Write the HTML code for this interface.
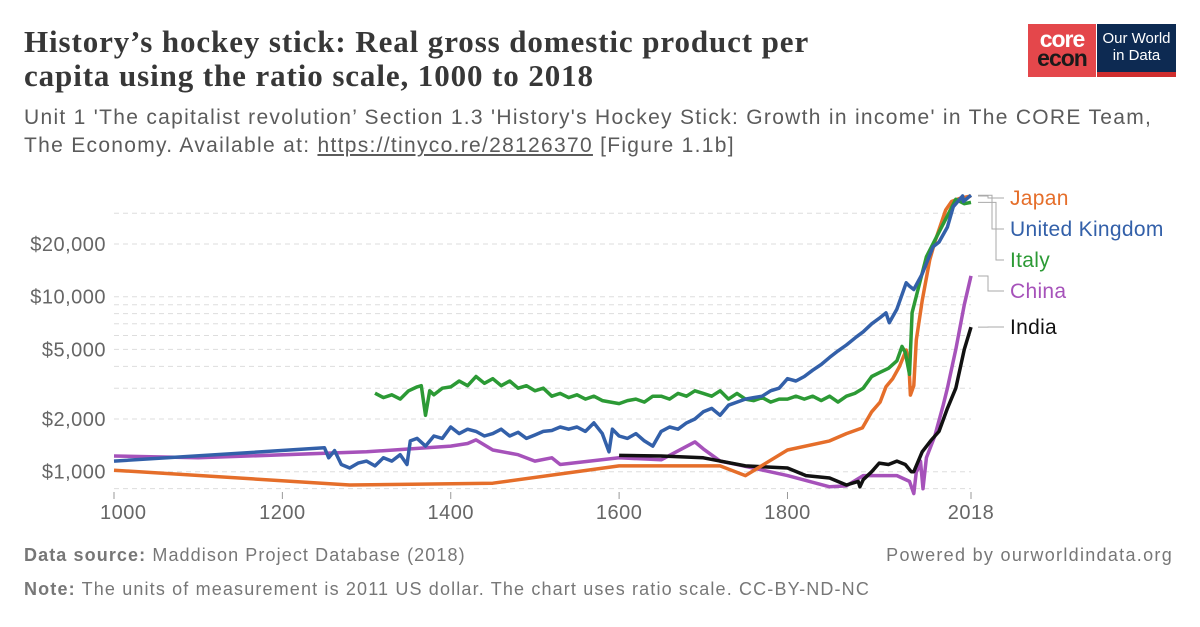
<!DOCTYPE html>
<html><head><meta charset="utf-8">
<style>
body{margin:0;background:#fff;}
#wrap{position:relative;width:1200px;height:627px;overflow:hidden;font-family:"Liberation Sans",sans-serif;}
.t{position:absolute;white-space:nowrap;}
</style></head>
<body>
<div id="wrap">
<div class="t" style="left:24px;top:25px;font-family:'Liberation Serif',serif;font-weight:bold;font-size:31px;letter-spacing:0.9px;line-height:34px;color:#373737;">History’s hockey stick: Real gross domestic product per<br>capita using the ratio scale, 1000 to 2018</div>
<div class="t" style="left:24px;top:104px;font-size:21px;letter-spacing:1.3px;line-height:28px;color:#5b5b5b;">Unit 1 'The capitalist revolution’ Section 1.3 'History's Hockey Stick: Growth in income' in The CORE Team,<br>The Economy. Available at: <span style="text-decoration:underline">https://tinyco.re/28126370</span> [Figure 1.1b]</div>
<div style="position:absolute;left:1028px;top:24px;width:68px;height:53px;background:#e4474b;color:#fff;font-weight:bold;font-size:23px;line-height:19px;padding-top:6px;box-sizing:border-box;text-align:center;letter-spacing:-1px;">core<br><span style="color:#1a1a1a">econ</span></div>
<div style="position:absolute;left:1097px;top:24px;width:79px;height:53px;background:#0d2a52;border-bottom:5px solid #cf2d2d;box-sizing:border-box;color:#fff;font-size:15px;line-height:17px;padding-top:6px;text-align:center;">Our World<br>in Data</div>
<svg id="chart" width="1200" height="627" style="position:absolute;left:0;top:0;"></svg>
<div class="t" style="left:24px;top:545px;font-size:18px;letter-spacing:1.1px;color:#777;"><b>Data source:</b> Maddison Project Database (2018)</div>
<div class="t" style="right:27px;top:545px;font-size:18px;letter-spacing:1.3px;color:#777;">Powered by ourworldindata.org</div>
<div class="t" style="left:24px;top:579px;font-size:18px;letter-spacing:1.15px;color:#777;"><b>Note:</b> The units of measurement is 2011 US dollar. The chart uses ratio scale. CC-BY-ND-NC</div>
</div>
<script>
const yTicks=[1000,2000,5000,10000,20000];
const yTickLabels=["$1,000","$2,000","$5,000","$10,000","$20,000"];
const gridValues=[800,1000,2000,3000,4000,5000,6000,7000,8000,9000,10000,20000,30000];
const xTicks=[1000,1200,1400,1600,1800,2018];
const japanYears=[1000,1280,1450,1600,1720,1750,1800,1850,1870,1889,1900,1910,1917,1925,1933,1941,1944,1946,1950,1953,1960,1969,1975,1988,1995,2005,2018];
const japanVals=[1020,840,860,1080,1080,950,1330,1500,1650,1780,2200,2500,3060,3400,3980,4960,4300,2740,3100,5660,9500,16200,20500,31300,35000,36500,37600];
const ukYears=[1000,1250,1255,1262,1270,1280,1290,1300,1310,1320,1330,1340,1348,1352,1360,1370,1380,1390,1400,1410,1420,1430,1440,1450,1460,1470,1480,1490,1500,1510,1520,1530,1540,1550,1560,1570,1580,1588,1592,1600,1610,1620,1630,1640,1650,1660,1670,1680,1690,1700,1710,1720,1730,1740,1750,1760,1770,1780,1790,1800,1810,1820,1830,1840,1850,1860,1870,1882,1890,1900,1910,1917,1921,1930,1941,1945,1950,1960,1973,1980,1990,1997,2008,2009,2018];
const ukVals=[1150,1370,1200,1320,1100,1050,1120,1150,1080,1200,1150,1250,1100,1500,1550,1400,1600,1550,1800,1650,1750,1700,1600,1650,1750,1600,1680,1550,1620,1700,1720,1800,1750,1800,1700,1900,1650,1300,1750,1600,1550,1650,1500,1400,1700,1800,1750,1900,2000,2200,2300,2100,2400,2500,2600,2650,2700,2900,3000,3400,3300,3500,3800,4100,4500,4900,5300,5900,6300,7000,7600,8080,7100,8500,12000,11500,11000,13500,19300,20500,25000,32700,37600,35000,38000];
const italyYears=[1310,1320,1330,1340,1350,1360,1365,1370,1375,1380,1390,1400,1410,1420,1430,1440,1450,1460,1470,1480,1490,1500,1510,1520,1530,1540,1550,1560,1570,1580,1590,1600,1610,1620,1630,1640,1650,1660,1670,1680,1690,1700,1710,1720,1730,1740,1750,1760,1770,1780,1790,1800,1810,1820,1830,1840,1850,1860,1870,1880,1890,1900,1910,1920,1930,1936,1940,1945,1948,1955,1965,1975,1990,2000,2010,2018];
const italyVals=[2810,2650,2750,2600,2900,3050,3100,2100,2900,2750,3000,3050,3300,3100,3500,3200,3400,3100,3300,3000,3100,2900,3000,2700,2800,2650,2750,2600,2700,2550,2500,2450,2550,2600,2500,2700,2700,2600,2800,2700,2900,2800,2700,2900,2600,2800,2600,2550,2650,2500,2600,2600,2700,2600,2700,2550,2700,2500,2700,2800,3000,3500,3700,3900,4300,5200,4800,3600,8100,11000,16900,21000,29000,36000,34000,34600];
const chinaYears=[1000,1100,1300,1400,1420,1430,1450,1480,1500,1520,1530,1600,1650,1690,1700,1720,1740,1800,1850,1870,1890,1900,1930,1945,1950,1953,1956,1958,1961,1965,1975,1985,1990,2000,2010,2018];
const chinaVals=[1230,1200,1300,1400,1450,1520,1330,1250,1150,1200,1100,1200,1170,1480,1350,1150,1100,950,820,830,950,950,950,880,750,1000,1050,1150,800,1200,1600,2400,3000,5000,9000,13140];
const indiaYears=[1600,1650,1700,1750,1800,1822,1850,1870,1884,1886,1890,1900,1909,1920,1930,1940,1947,1950,1960,1970,1980,1990,2000,2010,2018];
const indiaVals=[1240,1230,1200,1080,1050,950,920,840,880,820,900,1000,1120,1100,1150,1100,1000,1000,1300,1500,1700,2300,3000,5000,6700];
const seriesNames=["Japan","United Kingdom","Italy","China","India"];
const ns="http://www.w3.org/2000/svg";
const svg=document.getElementById('chart');
const X=y=>114+(y-1000)*(971-114)/1018;
const Y=v=>471.7-175*Math.log10(v/1000);
function mk(tag,attrs,parent){const e=document.createElementNS(ns,tag);for(const k in attrs)e.setAttribute(k,attrs[k]);(parent||svg).appendChild(e);return e;}
gridValues.forEach(v=>{const l=mk('line',{x1:114,x2:971,y1:Y(v),y2:Y(v),stroke:'#ddd','stroke-dasharray':'5,4','stroke-width':1});

});
yTicks.forEach((v,i)=>{const t=mk('text',{x:106,y:Y(v)+7,'text-anchor':'end','font-size':20,'letter-spacing':0.5,fill:'#666','font-family':'Liberation Sans, sans-serif'});t.textContent=yTickLabels[i];

});
xTicks.forEach(v=>{const l=mk('line',{x1:X(v),x2:X(v),y1:492,y2:499,stroke:'#999'});


const t=mk('text',{x:X(v),y:519,'text-anchor':'middle','font-size':20,'letter-spacing':0.5,fill:'#666','font-family':'Liberation Sans, sans-serif'});


t.textContent=v; if(v===1000){t.setAttribute('text-anchor','start');t.setAttribute('x',X(v)-14);}});
const series=[[japanYears,japanVals,'#e56e2a'],[ukYears,ukVals,'#3360a9'],[italyYears,italyVals,'#2c9a35'],[chinaYears,chinaVals,'#a652ba'],[indiaYears,indiaVals,'#111']];
const drawOrder=[3,4,0,2,1];
drawOrder.forEach(i=>{const s=series[i];const d=s[0].map((yr,j)=>(j?'L':'M')+X(yr).toFixed(1)+','+Y(s[1][j]).toFixed(1)).join('');
const p=mk('path',{d:d,fill:'none',stroke:s[2],'stroke-width':3.5,'stroke-linejoin':'round'});

});
const labelY=[198,229,260,291,327];
series.forEach((s,i)=>{const endY=Y(s[1][s[1].length-1]);
const c=mk('path',{d:`M978,${endY}H${988+(i===1?4:(i===2?8:0))}V${labelY[i]}H1004`,fill:'none',stroke:'#aaa','stroke-width':1});


const t=mk('text',{x:1010,y:labelY[i]+7,'font-size':21,'letter-spacing':0.3,fill:s[2],'font-family':'Liberation Sans, sans-serif'});


t.textContent=seriesNames[i];});
</script>
</body></html>
